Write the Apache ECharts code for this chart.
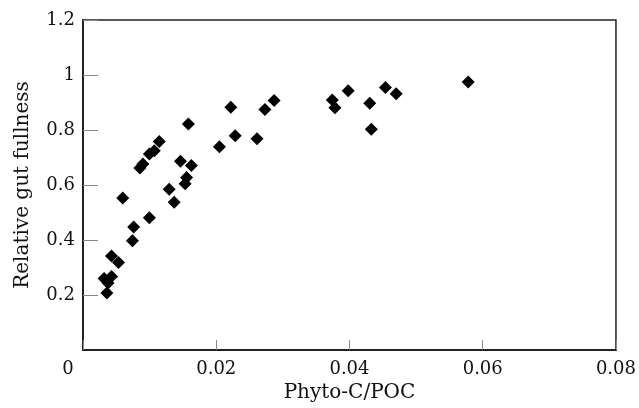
<!DOCTYPE html>
<html>
<head>
<meta charset="utf-8">
<script src="https://cdn.jsdelivr.net/npm/echarts@6/dist/echarts.min.js"></script>
<style>html,body{margin:0;padding:0;background:#fff}#c{width:639px;height:408px}</style>
</head>
<body>
<div id="c"></div>
<script>
var xName = 'Phyto-C/POC';
var yName = 'Relative gut fullness';
var phytoC = [0.00358,0.00316,0.00428,0.00376,0.00428,0.00533,0.00597,0.00742,0.00761,0.00996,
  0.00854,0.00899,0.00996,0.01070,0.01145,0.01582,0.01463,0.01627,0.01294,0.01369,
  0.01555,0.01533,0.02048,0.02219,0.02284,0.02612,0.02731,0.02869,0.03742,0.03782,
  0.03981,0.04304,0.04328,0.04540,0.04701,0.05782];
var gutFullness = [0.207,0.260,0.267,0.244,0.342,0.318,0.553,0.397,0.447,0.481,
  0.662,0.676,0.713,0.725,0.758,0.822,0.686,0.671,0.585,0.537,
  0.627,0.605,0.739,0.883,0.779,0.768,0.875,0.907,0.909,0.881,
  0.943,0.897,0.803,0.955,0.932,0.975];
var xTicks = [0, 0.02, 0.04, 0.06, 0.08];
var yTicks = [0, 0.2, 0.4, 0.6, 0.8, 1, 1.2];

var pts = phytoC.map(function(x, i){ return [x, gutFullness[i]]; });
var font = 'DejaVu Serif';
var chart = echarts.init(document.getElementById('c'), null, {renderer:'canvas'});
chart.setOption({
  animation: false,
  backgroundColor: '#fff',
  grid: {left: 83, right: 21, top: 20, bottom: 58, show: true, borderColor: '#222', borderWidth: 1.5, backgroundColor: 'transparent'},
  xAxis: {
    type: 'value', min: xTicks[0], max: xTicks[xTicks.length-1], interval: 0.02,
    name: xName, nameLocation: 'middle', nameGap: 29,
    nameTextStyle: {fontFamily: font, fontSize: 20, color: '#111'},
    axisLine: {show: true, lineStyle: {color: '#222', width: 2}},
    axisTick: {show: true, inside: true, length: 10, lineStyle: {color: '#888', width: 1}},
    splitLine: {show: false},
    axisLabel: {fontFamily: font, fontSize: 18, color: '#111', margin: 10,
      formatter: function(v){ return v === 0 ? '{z|0}' : String(+v.toFixed(2)); },
      rich: {z: {fontFamily: font, fontSize: 18, color: '#111', padding: [0, 30, 0, 0]}}}
  },
  yAxis: {
    type: 'value', min: yTicks[0], max: yTicks[yTicks.length-1], interval: 0.2,
    name: yName, nameLocation: 'middle', nameGap: 50, nameRotate: 90,
    nameTextStyle: {fontFamily: font, fontSize: 20, color: '#111'},
    axisLine: {show: true, lineStyle: {color: '#222', width: 2}},
    axisTick: {show: true, inside: true, length: 15, lineStyle: {color: '#888', width: 1}},
    splitLine: {show: false},
    axisLabel: {fontFamily: font, fontSize: 18, color: '#111', margin: 8, showMinLabel: false,
      formatter: function(v){ return String(+v.toFixed(1)); }}
  },
  series: [{
    type: 'scatter', data: pts, symbol: 'diamond', symbolSize: 13,
    itemStyle: {color: '#000', opacity: 1}
  }]
});
</script>
</body>
</html>
